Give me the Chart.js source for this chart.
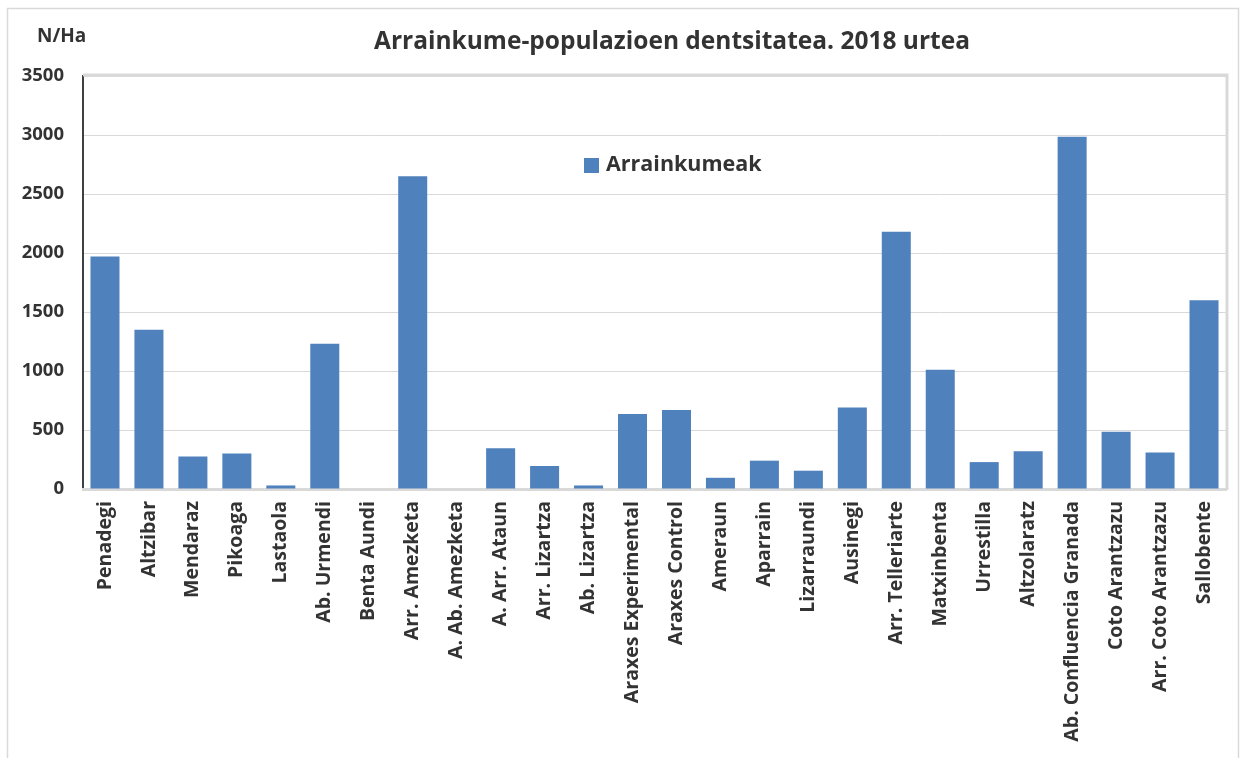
<!DOCTYPE html>
<html>
<head>
<meta charset="utf-8">
<script src="https://cdn.jsdelivr.net/npm/chart.js@4"></script>
<style>
  body { margin: 0; background: #fff; }
  #wrap { width: 1241px; height: 758px; }
</style>
</head>
<body>
<div id="wrap"><canvas id="fryChart" width="1241" height="758"></canvas></div>
<script>
// Data
const sites = [
  "Penadegi", "Altzibar", "Mendaraz", "Pikoaga", "Lastaola", "Ab. Urmendi",
  "Benta Aundi", "Arr. Amezketa", "A. Ab. Amezketa", "A. Arr. Ataun",
  "Arr. Lizartza", "Ab. Lizartza", "Araxes Experimental", "Araxes Control",
  "Ameraun", "Aparrain", "Lizarraundi", "Ausinegi", "Arr. Telleriarte",
  "Matxinbenta", "Urrestilla", "Altzolaratz", "Ab. Confluencia Granada",
  "Coto Arantzazu", "Arr. Coto Arantzazu", "Sallobente"
];
const fryDensity = [
  1970, 1350, 275, 300, 30, 1230,
  0, 2650, 0, 345,
  195, 30, 635, 670,
  95, 240, 155, 690, 2180,
  1010, 228, 320, 2985,
  485, 310, 1600
];
const seriesName = "Arrainkumeak";
const chartTitle = "Arrainkume-populazioen dentsitatea. 2018 urtea";
const unitLabel = "N/Ha";

const textColor = "#333333";
const fontFamily = "'Open Sans', 'DejaVu Sans', sans-serif";

// Frame, title, unit and legend drawn by hand
const decorations = {
  id: "decorations",
  beforeDraw(chart) {
    const c = chart.ctx;
    c.save();
    c.fillStyle = "#fff";
    c.fillRect(0, 0, chart.width, chart.height);
    c.strokeStyle = "#d9d9d9";
    c.lineWidth = 1.5;
    c.strokeRect(7.5, 8.5, 1231, 760);
    c.restore();
  },
  afterDraw(chart) {
    const c = chart.ctx;
    const a = chart.chartArea;
    c.save();
    // plot frame top / right
    c.strokeStyle = "#d9d9d9";
    c.lineWidth = 3;
    c.beginPath();
    c.moveTo(a.left, a.top - 1);
    c.lineTo(a.right + 1, a.top - 1);
    c.lineTo(a.right + 1, a.bottom + 1);
    c.stroke();

    c.fillStyle = textColor;
    c.textBaseline = "middle";
    c.font = "bold 24.5px " + fontFamily;
    c.textAlign = "center";
    c.fillText(chartTitle, 672, 42);

    c.font = "bold 19px " + fontFamily;
    c.textAlign = "left";
    c.fillText(unitLabel, 37, 37);

    // legend
    const ds = chart.data.datasets[0];
    c.fillStyle = ds.backgroundColor;
    c.fillRect(584, 158, 15, 15);
    c.fillStyle = textColor;
    c.font = "bold 21.5px " + fontFamily;
    c.fillText(ds.label, 606, 165);
    c.restore();
  }
};

const ctx = document.getElementById("fryChart");

new Chart(ctx, {
  type: "bar",
  data: {
    labels: sites,
    datasets: [
      {
        label: seriesName,
        data: fryDensity,
        backgroundColor: "#4f81bd",
        borderWidth: 0,
        barPercentage: 0.66,
        categoryPercentage: 1,
      },
    ],
  },
  options: {
    responsive: false,
    animation: false,
    layout: {
      padding: { top: 76, right: 15, left: 0, bottom: 0 },
    },
    plugins: {
      legend: { display: false },
      title: { display: false },
      tooltip: { enabled: false },
    },
    scales: {
      y: {
        min: 0,
        max: 3500,
        ticks: {
          stepSize: 500,
          padding: 19,
          color: textColor,
          font: { family: fontFamily, size: 18.5, weight: "bold" },
          callback: (v) => String(v),
        },
        grid: { color: "#d9d9d9", lineWidth: 1, drawTicks: false },
        border: { display: true, color: "#404040", width: 2 },
        afterFit(scale) { scale.width = 83; },
      },
      x: {
        ticks: {
          minRotation: 90,
          maxRotation: 90,
          autoSkip: false,
          padding: 12,
          color: textColor,
          font: { family: fontFamily, size: 19.5, weight: "bold" },
        },
        grid: { display: false, drawTicks: false },
        border: { display: true, color: "#d9d9d9", width: 3 },
        afterFit(scale) { scale.height = 269; },
      },
    },
  },
  plugins: [decorations],
});
</script>
</body>
</html>
